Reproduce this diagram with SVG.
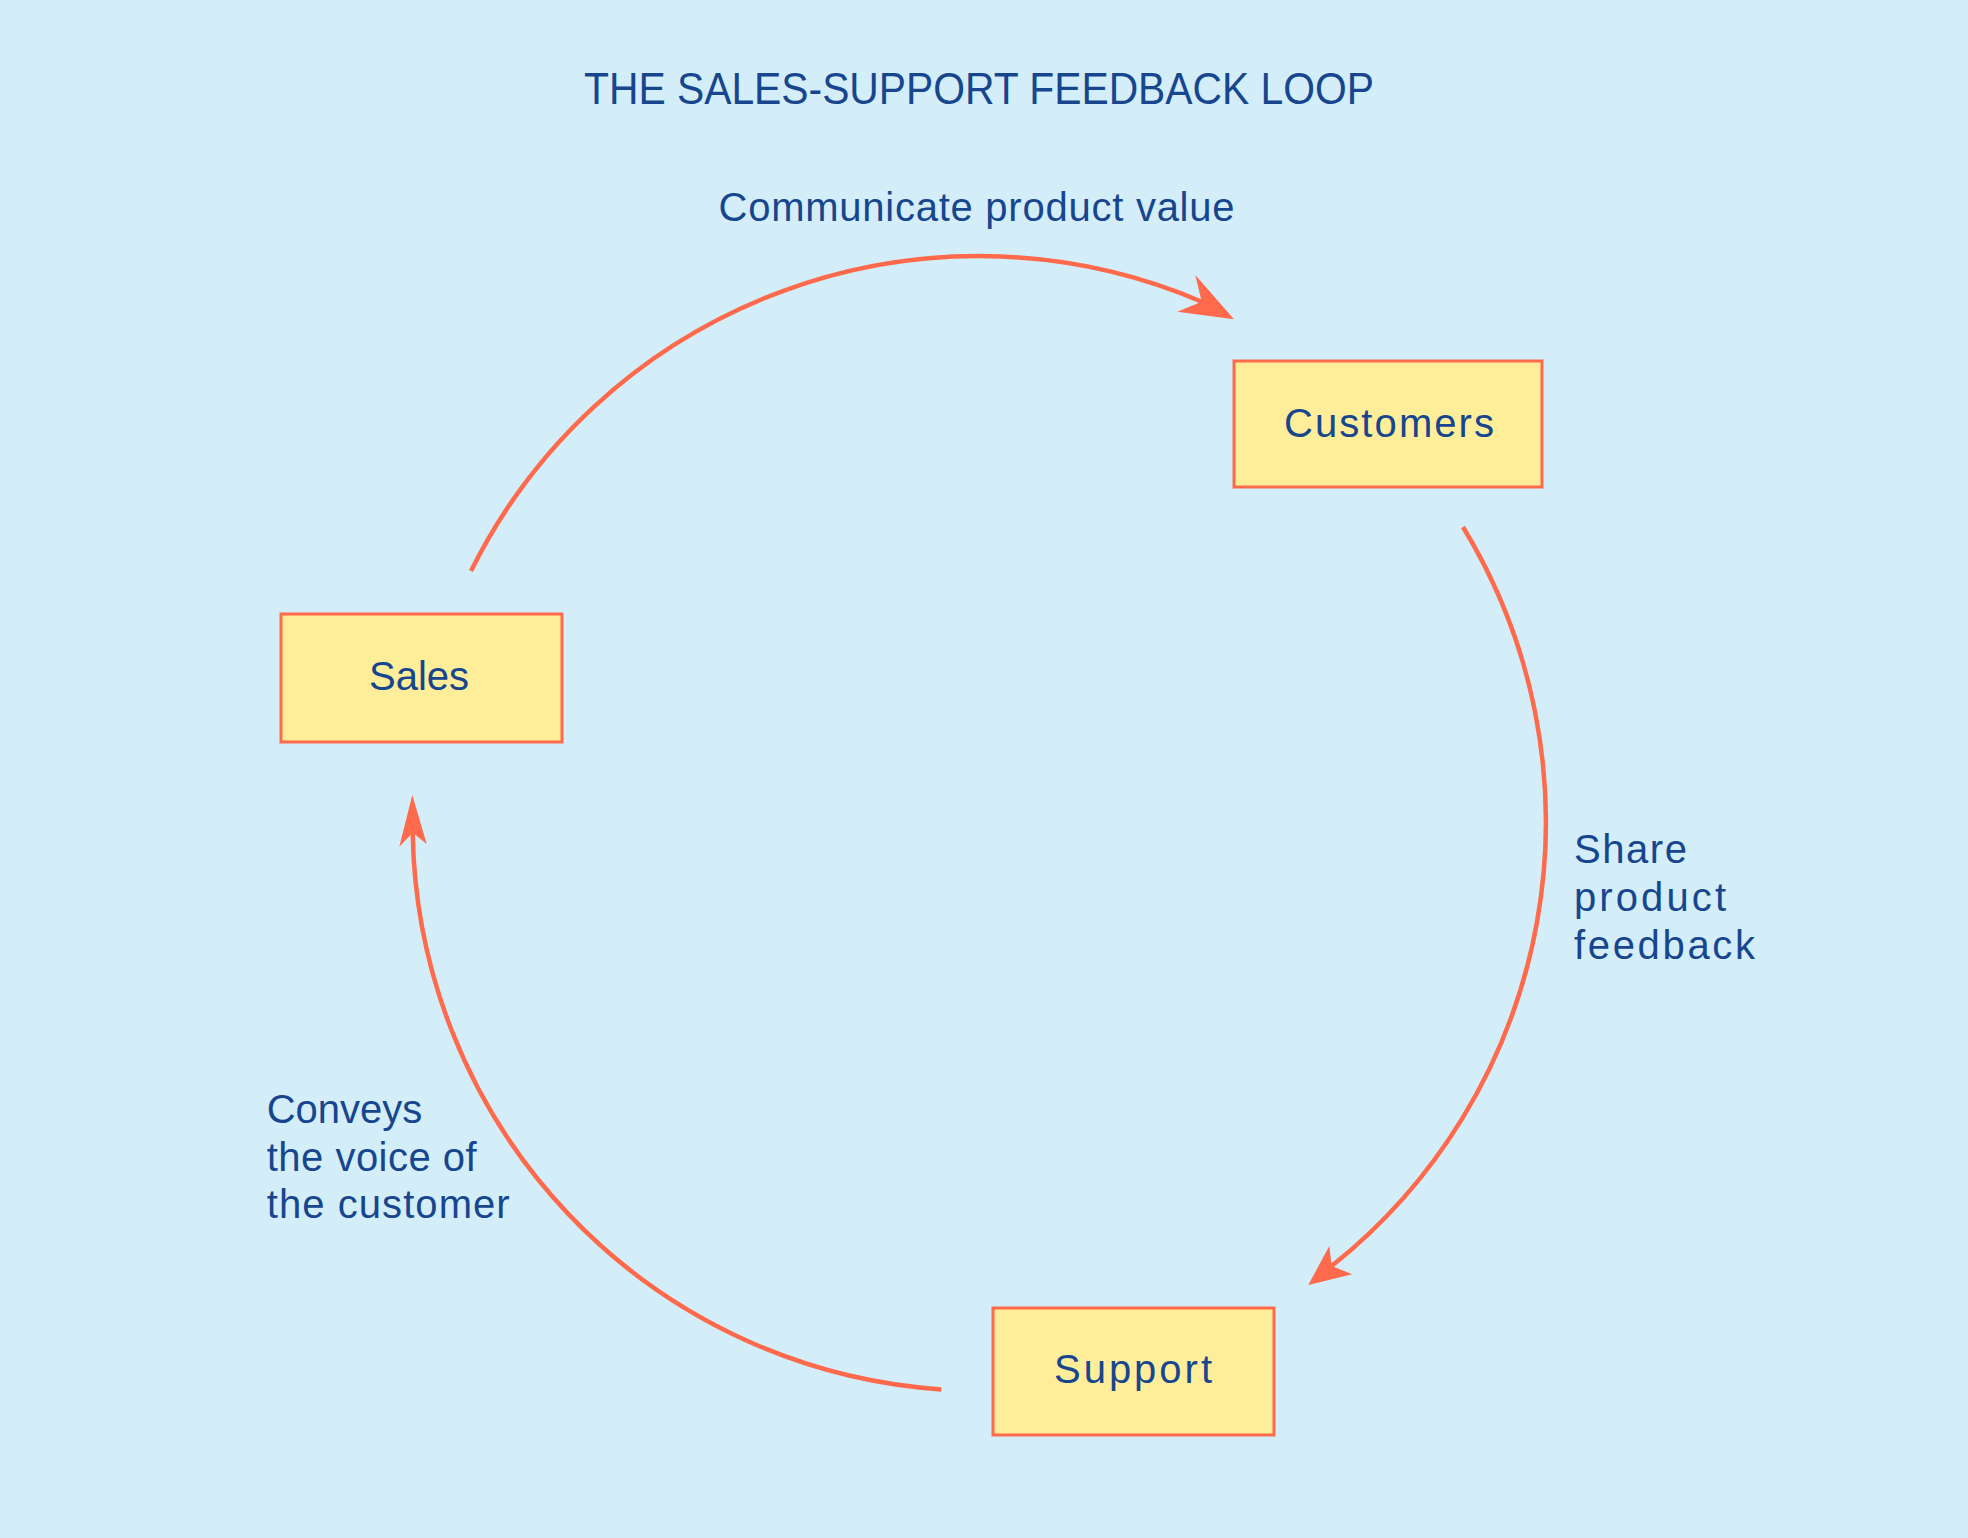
<svg xmlns="http://www.w3.org/2000/svg" width="1968" height="1538" viewBox="0 0 1968 1538">
<style>
  .bg { fill: #D3EEF8; }
  .box { fill: #FEED99; stroke: #FF6A4D; stroke-width: 3; }
  .lbl { font-family: "Liberation Sans", Arial, sans-serif; font-size: 40px; fill: #17468E; }
  .mid { text-anchor: middle; }
  .title { font-family: "Liberation Sans", Arial, sans-serif; font-size: 45px; fill: #17468E; text-anchor: middle; }
  .arc { fill: none; stroke: #FF6A4D; stroke-width: 4.5; }
  .head { fill: #FF6A4D; stroke: none; }
</style>
<rect class="bg" x="0" y="0" width="1968" height="1538"/>
<text class="title" x="979" y="104" textLength="790" lengthAdjust="spacingAndGlyphs">THE SALES-SUPPORT FEEDBACK LOOP</text>

<g id="connectors">
  <g id="edge-sales-customers">
    <path class="arc" d="M471,571 A567,567 0 0 1 1201.7,301.7"/>
    <polygon class="head" points="1234,319.3 1195.3,275 1201.7,301.7 1177.3,311.7"/>
    <text class="lbl mid" x="976.5" y="220.7" textLength="516">Communicate product value</text>
  </g>
  <g id="edge-customers-support">
    <path class="arc" d="M1463,527 A567,567 0 0 1 1331.7,1266"/>
    <polygon class="head" points="1308.3,1285 1329.3,1246 1331.7,1266 1352.3,1274.3"/>
    <text class="lbl" x="1574" y="863" textLength="113">Share</text>
    <text class="lbl" x="1574" y="911" textLength="152">product</text>
    <text class="lbl" x="1574" y="959" textLength="181">feedback</text>
  </g>
  <g id="edge-support-sales">
    <path class="arc" d="M941.3,1389.4 A567,567 0 0 1 412.7,832.7"/>
    <polygon class="head" points="412.3,795 426.7,844 412.7,832.7 399.3,846.7"/>
    <text class="lbl" x="266.7" y="1123">Conveys</text>
    <text class="lbl" x="266.7" y="1171" textLength="210">the voice of</text>
    <text class="lbl" x="266.7" y="1218" textLength="243">the customer</text>
  </g>
</g>

<g id="node-customers">
  <rect class="box" x="1234" y="361" width="308" height="126"/>
  <text class="lbl mid" x="1389" y="437" textLength="210">Customers</text>
</g>
<g id="node-sales">
  <rect class="box" x="281" y="614" width="281" height="128"/>
  <text class="lbl mid" x="419" y="690">Sales</text>
</g>
<g id="node-support">
  <rect class="box" x="993" y="1308" width="281" height="127"/>
  <text class="lbl mid" x="1133" y="1383" textLength="158">Support</text>
</g>
</svg>
